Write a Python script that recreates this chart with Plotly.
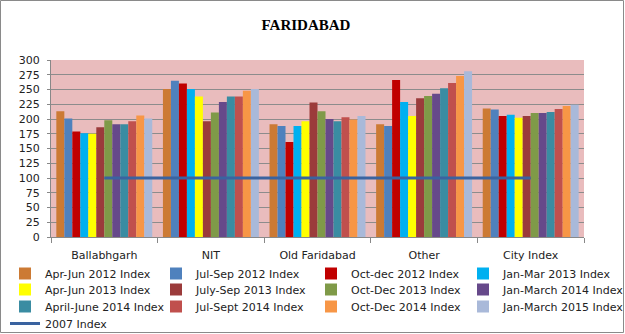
import plotly.graph_objects as go

categories = ["Ballabhgarh", "NIT", "Old Faridabad", "Other", "City Index"]

series_names = [
    "Apr-Jun 2012 Index", "Jul-Sep 2012 Index", "Oct-dec 2012 Index", "Jan-Mar 2013 Index",
    "Apr-Jun 2013 Index", "July-Sep 2013 Index", "Oct-Dec 2013 Index", "Jan-March 2014 Index",
    "April-June 2014 Index", "Jul-Sept 2014 Index", "Oct-Dec 2014 Index", "Jan-March 2015 Index",
]

apr_jun_2012 = [213, 251, 191, 191, 218]
jul_sep_2012 = [201, 265, 188, 188, 216]
oct_dec_2012 = [179, 260, 161, 266, 205]
jan_mar_2013 = [176, 251, 188, 229, 207]
apr_jun_2013 = [175, 238, 196, 205, 202]
jul_sep_2013 = [186, 196, 228, 235, 205]
oct_dec_2013 = [198, 211, 213, 239, 210]
jan_mar_2014 = [191, 229, 200, 243, 210]
apr_jun_2014 = [191, 238, 196, 252, 212]
jul_sep_2014 = [196, 238, 203, 261, 217]
oct_dec_2014 = [206, 248, 199, 273, 222]
jan_mar_2015 = [201, 251, 205, 281, 224]
index_2007 = [100, 100, 100, 100, 100]

series_values = [
    apr_jun_2012, jul_sep_2012, oct_dec_2012, jan_mar_2013,
    apr_jun_2013, jul_sep_2013, oct_dec_2013, jan_mar_2014,
    apr_jun_2014, jul_sep_2014, oct_dec_2014, jan_mar_2015,
]

colors = [
    "#cc7a34", "#4f81bd", "#c00000", "#00b0f0",
    "#ffff00", "#9b3b3b", "#7f9a48", "#66498a",
    "#3a8ca2", "#c0504d", "#f79646", "#a9b9d9",
]

y_ticks = [0, 25, 50, 75, 100, 125, 150, 175, 200, 225, 250, 275, 300]

W, H = 625, 334
L, R, T, B = 51, 41, 60, 97
pw, ph = W - L - R, H - T - B

# legend grid: 4 columns, rows of 17 px (row centres)
col_x = [5, 156, 311, 463]
row_y = [274, 290, 307, 324]

fig = go.Figure()
legends = {}
for i, (name, vals, col) in enumerate(zip(series_names, series_values, colors)):
    lid = "legend" if i == 0 else f"legend{i + 1}"
    fig.add_trace(go.Bar(x=categories, y=vals, name=name, legend=lid,
                         marker=dict(color=col, line=dict(width=0))))
    legends[lid] = (col_x[i % 4], row_y[i // 4])

fig.add_trace(go.Scatter(x=categories, y=index_2007, name="2007 Index", mode="lines", legend="legend13",
                         line=dict(color="#3a63a0", width=3)))
legends["legend13"] = (col_x[0], row_y[3])

legend_layout = {}
for lid, (lx, ly) in legends.items():
    legend_layout[lid] = dict(
        xref="container", yref="container", x=lx / W, xanchor="left",
        y=1 - (ly - 15) / H, yanchor="top", orientation="h",
        font=dict(size=11, family="DejaVu Sans", color="#222222"),
        bgcolor="rgba(0,0,0,0)", borderwidth=0, itemwidth=30,
    )

fig.update_layout(
    width=W, height=H,
    margin=dict(l=L, r=R, t=T, b=B, pad=0, autoexpand=False),
    paper_bgcolor="white",
    plot_bgcolor="#e9bcbd",
    bargap=0.1, bargroupgap=0,
    font=dict(family="DejaVu Sans", size=11, color="#222222"),
    title=dict(text="<b>FARIDABAD</b>", x=306 / W, xanchor="center", y=1 - 25 / H, yanchor="middle",
               font=dict(family="Liberation Serif", size=15, color="#000000")),
    showlegend=True,
    xaxis=dict(showgrid=False, ticks="outside", tickson="boundaries", ticklen=5, tickcolor="#888888",
               showline=True, linecolor="#888888", linewidth=1, tickfont=dict(size=11), automargin=False,
               ticklabelstandoff=8),
    yaxis=dict(range=[0, 300], tickvals=y_ticks, showgrid=True, gridcolor="#8c8c8c", gridwidth=1,
               showline=True, linecolor="#888888", ticks="outside", ticklen=3, tickcolor="#888888",
               zeroline=False, tickfont=dict(size=11), automargin=False, ticklabelstandoff=5),
    **legend_layout,
)

fig.add_shape(type="rect", xref="paper", yref="paper",
              x0=-(L - 0.5) / pw, x1=1 + (R - 1.5) / pw, y0=-(B - 1.5) / ph, y1=1 + (T - 0.5) / ph,
              line=dict(color="#8a8a8a", width=1), fillcolor="rgba(0,0,0,0)", layer="above")

fig.write_html("out.html")
